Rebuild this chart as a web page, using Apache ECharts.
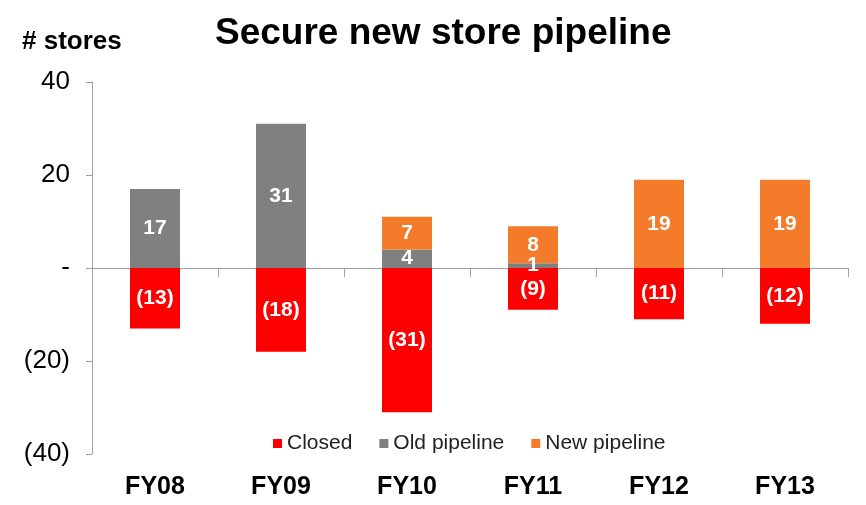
<!DOCTYPE html>
<html>
<head>
<meta charset="utf-8">
<script src="https://cdn.jsdelivr.net/npm/echarts@6/dist/echarts.min.js"></script>
<style>
  html, body { margin: 0; padding: 0; background: #fff; }
  #chart { width: 866px; height: 505px; }
</style>
</head>
<body>
<div id="chart"></div>
<script>
// 数据
const years = ['FY08', 'FY09', 'FY10', 'FY11', 'FY12', 'FY13']
const closed = [-13, -18, -31, -9, -11, -12]
const oldPipeline = [17, 31, 4, 1, 0, 0]
const newPipeline = [0, 0, 7, 8, 19, 19]
const yTicks = { min: -40, max: 40, interval: 20 }

const font = 'Liberation Sans, Arial, sans-serif'

const fmtY = v => v === 0 ? '-' : (v < 0 ? '(' + Math.abs(v) + ')' : String(v))
const barLabel = {
  show: true,
  position: 'inside',
  color: '#fff',
  fontWeight: 'bold',
  fontSize: 21,
  fontFamily: font,
  formatter: p => p.value === 0 ? '' : fmtY(p.value)
}

const chart = echarts.init(document.getElementById('chart'))
chart.setOption({
  animation: false,
  title: [
    { text: 'Secure new store pipeline', left: 210, top: 10,
      textStyle: { fontSize: 37, fontWeight: 'bold', color: '#000', fontFamily: font } },
    { text: '# stores', left: 17, top: 24,
      textStyle: { fontSize: 26, fontWeight: 'bold', color: '#000', fontFamily: font } }
  ],
  legend: {
    left: 268, top: 428,
    itemWidth: 9, itemHeight: 9, itemGap: 27,
    icon: 'rect',
    textStyle: { fontSize: 21, color: '#222', fontFamily: font },
    data: ['Closed', 'Old pipeline', 'New pipeline']
  },
  grid: { left: 92, right: 18, top: 82, bottom: 51 },
  xAxis: [
    {
      type: 'category', data: years, position: 'bottom',
      axisLine: { show: false, onZero: false }, axisTick: { show: false },
      axisLabel: { fontSize: 25, fontWeight: 'bold', color: '#000', fontFamily: font, margin: 21 }
    },
    {
      type: 'category', data: years, position: 'bottom',
      axisLine: { show: true, onZero: true, lineStyle: { color: '#a0a0a0' } },
      axisTick: { show: true, length: 9, lineStyle: { color: '#a0a0a0' } },
      axisLabel: { show: false }
    }
  ],
  yAxis: {
    type: 'value', min: yTicks.min, max: yTicks.max, interval: yTicks.interval,
    splitLine: { show: false },
    axisLine: { show: true, lineStyle: { color: '#a0a0a0' } },
    axisTick: { show: true, length: 6, lineStyle: { color: '#a0a0a0' } },
    axisLabel: { fontSize: 26, color: '#000', fontFamily: font, margin: 22, formatter: fmtY }
  },
  series: [
    { name: 'Closed', type: 'bar', stack: 'a', data: closed, barWidth: 50,
      itemStyle: { color: '#ff0000' }, label: barLabel },
    { name: 'Old pipeline', type: 'bar', stack: 'a', data: oldPipeline, barWidth: 50,
      itemStyle: { color: '#808080' }, label: barLabel },
    { name: 'New pipeline', type: 'bar', stack: 'a', data: newPipeline, barWidth: 50,
      itemStyle: { color: '#f47b2a' }, label: barLabel }
  ]
})
</script>
</body>
</html>
